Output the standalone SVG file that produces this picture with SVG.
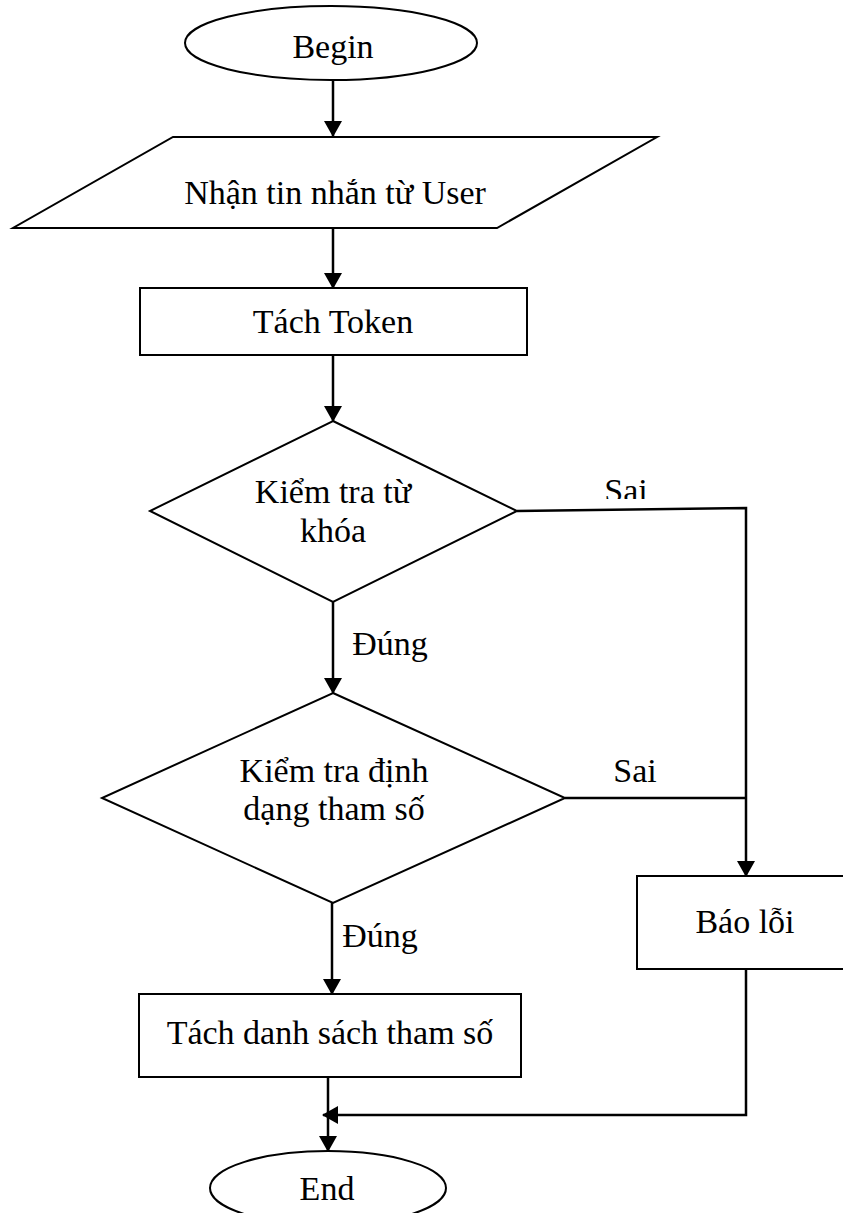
<svg xmlns="http://www.w3.org/2000/svg" width="843" height="1213" viewBox="0 0 843 1213">
  <style>
    .shape { fill: #ffffff; stroke: #000000; stroke-width: 2; }
    .wire { fill: none; stroke: #000000; stroke-width: 2.5; }
    .label { font-family: "Liberation Serif", "Times New Roman", serif; font-size: 34px; fill: #000000; text-anchor: middle; }
  </style>
  <defs>
    <marker id="arrow" markerUnits="userSpaceOnUse" markerWidth="16" markerHeight="18" refX="15" refY="9" orient="auto">
      <path d="M0,0 L16,9 L0,18 Z" fill="#000000"/>
    </marker>
    <clipPath id="sai-clip">
      <rect x="580" y="460" width="100" height="39"/>
    </clipPath>
  </defs>
  <rect x="0" y="0" width="843" height="1213" fill="#ffffff"/>

  <!-- connectors -->
  <g id="connectors">
    <line class="wire" x1="333" y1="80" x2="333" y2="136" marker-end="url(#arrow)"/>
    <line class="wire" x1="333" y1="228" x2="333" y2="288" marker-end="url(#arrow)"/>
    <line class="wire" x1="333" y1="355" x2="333" y2="421" marker-end="url(#arrow)"/>
    <line class="wire" x1="333" y1="602" x2="333" y2="693" marker-end="url(#arrow)"/>
    <line class="wire" x1="332" y1="903" x2="332" y2="994" marker-end="url(#arrow)"/>
    <polyline class="wire" points="517,511 746,508 746,876" marker-end="url(#arrow)"/>
    <line class="wire" x1="565" y1="798" x2="746" y2="798"/>
    <polyline class="wire" points="746,969 746,1115 323,1115" marker-end="url(#arrow)"/>
    <line class="wire" x1="328" y1="1077" x2="328" y2="1151" marker-end="url(#arrow)"/>
    <text class="label" x="626" y="502" clip-path="url(#sai-clip)">Sai</text>
    <text class="label" x="390" y="655">Đúng</text>
    <text class="label" x="635" y="782">Sai</text>
    <text class="label" x="380" y="947">Đúng</text>
  </g>

  <g id="begin">
    <ellipse class="shape" cx="331" cy="43" rx="146" ry="37"/>
    <text class="label" x="333" y="58">Begin</text>
  </g>

  <g id="input">
    <polygon class="shape" points="173,137 657,137 497,228 13,228"/>
    <text class="label" x="335" y="204">Nhận tin nhắn từ User</text>
  </g>

  <g id="tokenize">
    <rect class="shape" x="140" y="288" width="387" height="67"/>
    <text class="label" x="333" y="333">Tách Token</text>
  </g>

  <g id="check-keyword">
    <polygon class="shape" points="333,421 517,511 333,602 150,511"/>
    <text class="label" x="333" y="503">Kiểm tra từ</text>
    <text class="label" x="333" y="542">khóa</text>
  </g>

  <g id="check-params">
    <polygon class="shape" points="333,693 565,798 333,903 102,798"/>
    <text class="label" x="334" y="782">Kiểm tra định</text>
    <text class="label" x="334" y="820">dạng tham số</text>
  </g>

  <g id="error">
    <rect class="shape" x="637" y="876" width="220" height="93"/>
    <text class="label" x="745" y="933">Báo lỗi</text>
  </g>

  <g id="split-params">
    <rect class="shape" x="139" y="994" width="382" height="83"/>
    <text class="label" x="330" y="1044">Tách danh sách tham số</text>
  </g>

  <g id="end">
    <ellipse class="shape" cx="328" cy="1188" rx="118" ry="37"/>
    <text class="label" x="327" y="1200">End</text>
  </g>
</svg>
